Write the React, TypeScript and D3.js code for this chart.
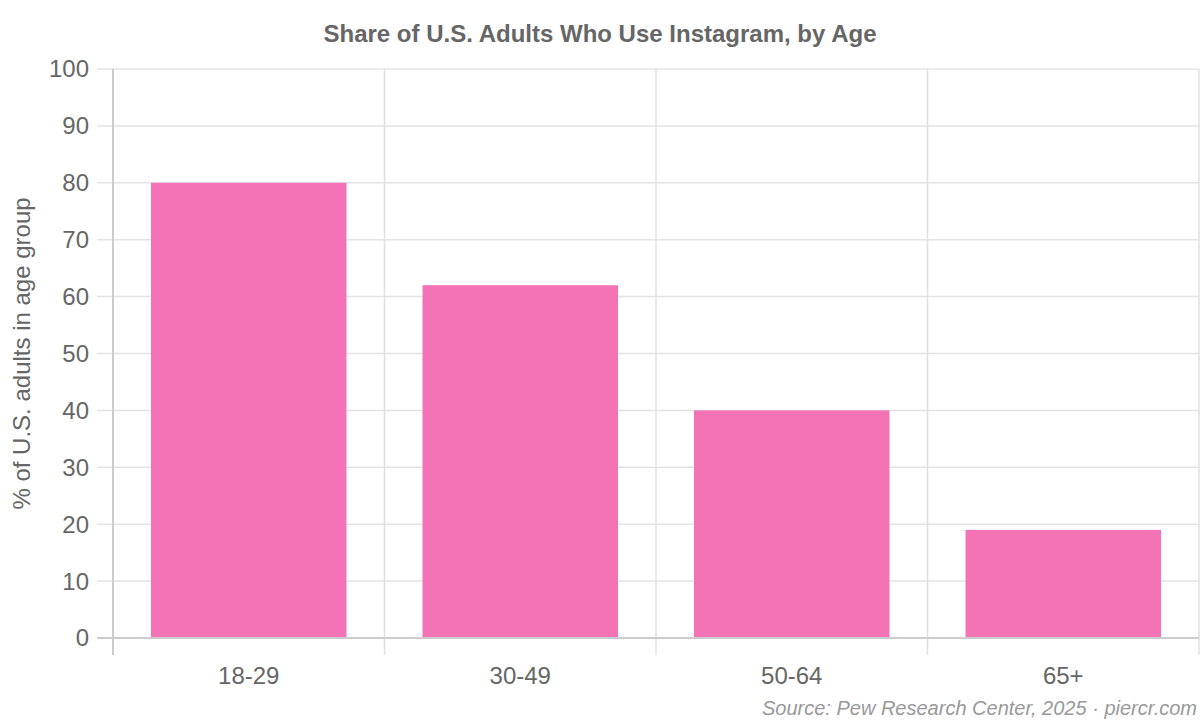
import React, { useEffect } from 'react'
import * as d3 from 'd3'

const ageGroups = ['18-29', '30-49', '50-64', '65+']
const shareValues = [80, 62, 40, 19]
const yTicks = [0, 10, 20, 30, 40, 50, 60, 70, 80, 90, 100]

const W = 1200
const H = 720
const margin = { top: 69, right: 1, bottom: 82, left: 113 }
const font = '"Liberation Sans", Arial, Helvetica, sans-serif'

export default function App() {
  useEffect(() => {
    document.body.style.margin = '0'
  }, [])

  const x = d3
    .scaleBand<string>()
    .domain(ageGroups)
    .range([margin.left, W - margin.right])
  const y = d3
    .scaleLinear()
    .domain([0, 100])
    .range([H - margin.bottom, margin.top])

  const bw = x.bandwidth()
  const barW = bw * 0.72
  const x0 = margin.left
  const x1 = W - margin.right
  const yBase = y(0)

  return (
    <svg width={W} height={H} style={{ display: 'block', fontFamily: font }}>
      <rect width={W} height={H} fill="#fff" />
      <text x={600} y={42} textAnchor="middle" fontSize={24} fontWeight="bold" fill="#666">
        Share of U.S. Adults Who Use Instagram, by Age
      </text>

      {/* horizontal grid */}
      {yTicks.map((t) => (
        <g key={t}>
          <line
            x1={x0 - 16}
            x2={x1}
            y1={y(t)}
            y2={y(t)}
            stroke={t === 0 ? '#cccccc' : '#e3e3e3'}
            strokeWidth={t === 0 ? 2 : 1.5}
          />
          <text x={x0 - 24} y={y(t)} dy="0.35em" textAnchor="end" fontSize={24} fill="#666">
            {t}
          </text>
        </g>
      ))}

      {/* vertical grid at category boundaries */}
      {d3.range(ageGroups.length + 1).map((i) => {
        const gx = x0 + i * bw
        return (
          <line
            key={i}
            x1={gx}
            x2={gx}
            y1={y(100)}
            y2={yBase + 17}
            stroke={i === 0 ? '#cccccc' : '#e0e0e0'}
            strokeWidth={i === 0 ? 2 : 1.5}
          />
        )
      })}

      {ageGroups.map((g, i) => {
        const bx = (x(g) ?? 0) + (bw - barW) / 2
        return (
          <rect
            key={g}
            x={bx}
            y={y(shareValues[i])}
            width={barW}
            height={yBase - y(shareValues[i])}
            fill="#f472b6"
          />
        )
      })}

      {/* redraw base line on top */}
      <line x1={x0 - 16} x2={x1} y1={yBase} y2={yBase} stroke="#cccccc" strokeWidth={2} />

      {ageGroups.map((g) => (
        <text
          key={g}
          x={(x(g) ?? 0) + bw / 2}
          y={684}
          textAnchor="middle"
          fontSize={24}
          fill="#666"
        >
          {g}
        </text>
      ))}

      <text
        transform={`translate(30,${(y(0) + y(100)) / 2}) rotate(-90)`}
        textAnchor="middle"
        fontSize={24}
        fill="#666"
      >
        % of U.S. adults in age group
      </text>

      <text x={1197} y={715} textAnchor="end" fontSize={20} fontStyle="italic" fill="#999">
        Source: Pew Research Center, 2025 · piercr.com
      </text>
    </svg>
  )
}
